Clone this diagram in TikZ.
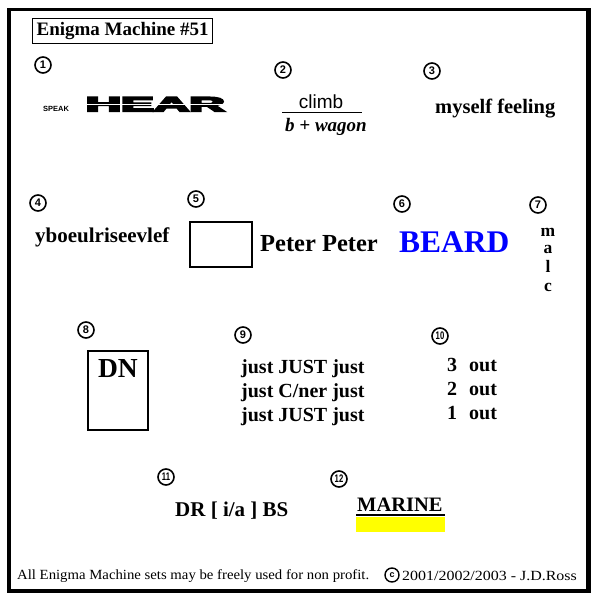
\documentclass[tikz,border=0pt]{standalone}
\usepackage{fontspec}
\setmainfont{Liberation Serif}
\newfontfamily\sansf{Liberation Sans}
\newfontfamily\serf{Liberation Serif}
\newfontfamily\heavyf{Liberation Sans}[FakeBold=8,BoldFeatures={FakeBold=8}]
\definecolor{beardblue}{RGB}{0,0,255}
\definecolor{marineyellow}{RGB}{255,255,0}
\begin{document}
\begin{tikzpicture}[x=1pt,y=-1pt,
  numc/.style={circle,draw,line width=1.6pt,minimum size=16pt,inner sep=0pt,font=\sansf\bfseries\fontsize{11}{11}\selectfont},
  txt/.style={anchor=base west,inner sep=0pt,font=\serf\bfseries\fontsize{20}{20}\selectfont},
  boxr/.style={draw,line width=1.5pt}]
\useasboundingbox (0,0) rectangle (600,600);
\fill[white] (0,0) rectangle (600,600);
% frame
\fill[black] (7,8) rectangle (591,593);
\fill[white] (11,10.5) rectangle (586,589);
% title
\node[draw,line width=1.3pt,inner sep=0pt,minimum width=180pt,minimum height=25pt,anchor=north west,font=\serf\bfseries\fontsize{19}{19}\selectfont] (title) at (32,18) {Enigma Machine \#51};
% circled numbers
\node[numc] (n1) at (43,65) {1};
\node[numc] (n2) at (283,70) {2};
\node[numc] (n3) at (432,71) {3};
\node[numc] (n4) at (38,203) {4};
\node[numc] (n5) at (196,199) {5};
\node[numc] (n6) at (402,204) {6};
\node[numc] (n7) at (538,205) {7};
\node[numc] (n8) at (86,330) {8};
\node[numc] (n9) at (243,335) {9};
\node[numc] (n10) at (440,336) {\scalebox{0.7}[1]{10}};
\node[numc] (n11) at (166,477) {\scalebox{0.7}[1]{11}};
\node[numc] (n12) at (339,479) {\scalebox{0.7}[1]{12}};
% 1
\node[anchor=base west,inner sep=0pt,font=\sansf\bfseries\fontsize{7.5}{7.5}\selectfont] (speak) at (43,111) {SPEAK};
\node[anchor=south west,inner sep=0pt] (hear) at (85.5,111.5) {\resizebox{139pt}{14pt}{\heavyf\bfseries HEAR}};
\draw[white,line width=1pt] (84,104.5) -- (228,104.5);
% 2
\node[anchor=base,inner sep=0pt,font=\sansf\fontsize{19}{19}\selectfont] (climb) at (321,108) {climb};
\draw[line width=1.6pt] (282,112.5) coordinate (l1) -- (362,112.5) coordinate (l2);
\node[anchor=base,inner sep=0pt,font=\serf\bfseries\itshape\fontsize{19}{19}\selectfont] (wagon) at (326,131) {b + wagon};
% 3
\node[txt,font=\serf\bfseries\fontsize{20.5}{20.5}\selectfont] (myself) at (435,113) {myself feeling};
% 4
\node[txt,font=\serf\bfseries\fontsize{21}{21}\selectfont] (ybo) at (35,242) {yboeulriseevlef};
% 5
\draw[boxr] (190,222) rectangle (252,267);
\node[txt,font=\serf\bfseries\fontsize{24.5}{24.5}\selectfont] (peter) at (260,251) {Peter Peter};
% 6
\node[txt,text=beardblue,font=\serf\bfseries\fontsize{31.5}{31.5}\selectfont] (beard) at (399,252) {BEARD};
% 7
\begin{scope}[every node/.style={anchor=base,inner sep=0pt,font=\serf\bfseries\fontsize{17.5}{17.5}\selectfont}]
\node (m) at (548,236) {m};
\node (a) at (548,253) {a};
\node (l) at (548,272) {l};
\node (c) at (548,291) {c};
\end{scope}
% 8
\draw[boxr] (88,351) rectangle (148,430);
\node[anchor=base,inner sep=0pt,font=\serf\bfseries\fontsize{27.5}{27.5}\selectfont] (dn) at (118,377) {DN};
% 9
\node[txt] (j1) at (241,373) {just JUST just};
\node[txt] (j2) at (241,397) {just C/ner just};
\node[txt] (j3) at (241,421) {just JUST just};
% 10
\node[txt] (o3) at (447,371) {3\hspace{12pt}out};
\node[txt] (o2) at (447,395) {2\hspace{12pt}out};
\node[txt] (o1) at (447,419) {1\hspace{12pt}out};
% 11
\node[txt,font=\serf\bfseries\fontsize{21}{21}\selectfont] (dr) at (175,516) {DR [ i/a ] BS};
% 12
\fill[marineyellow] (356,517) rectangle (445,532);
\node[txt,font=\serf\bfseries\fontsize{20.5}{20.5}\selectfont] (marine) at (357,511) {MARINE};
\draw[line width=1.6pt] (356,515) -- (445,515);
% footer
\node[anchor=base west,inner sep=0pt,font=\serf\fontsize{14}{14}\selectfont] (foot) at (17,579) {\scalebox{1.054}[1]{All Enigma Machine sets may be freely used for non profit.}};
\node[circle,draw,line width=1.4pt,minimum size=14pt,inner sep=0pt,font=\sansf\bfseries\fontsize{9}{9}\selectfont] (copy) at (392,575) {c};
\node[anchor=base west,inner sep=0pt,font=\serf\fontsize{14}{14}\selectfont] (year) at (402,580) {\scalebox{1.14}[1]{2001/2002/2003 - J.D.Ross}};
\end{tikzpicture}
\end{document}
